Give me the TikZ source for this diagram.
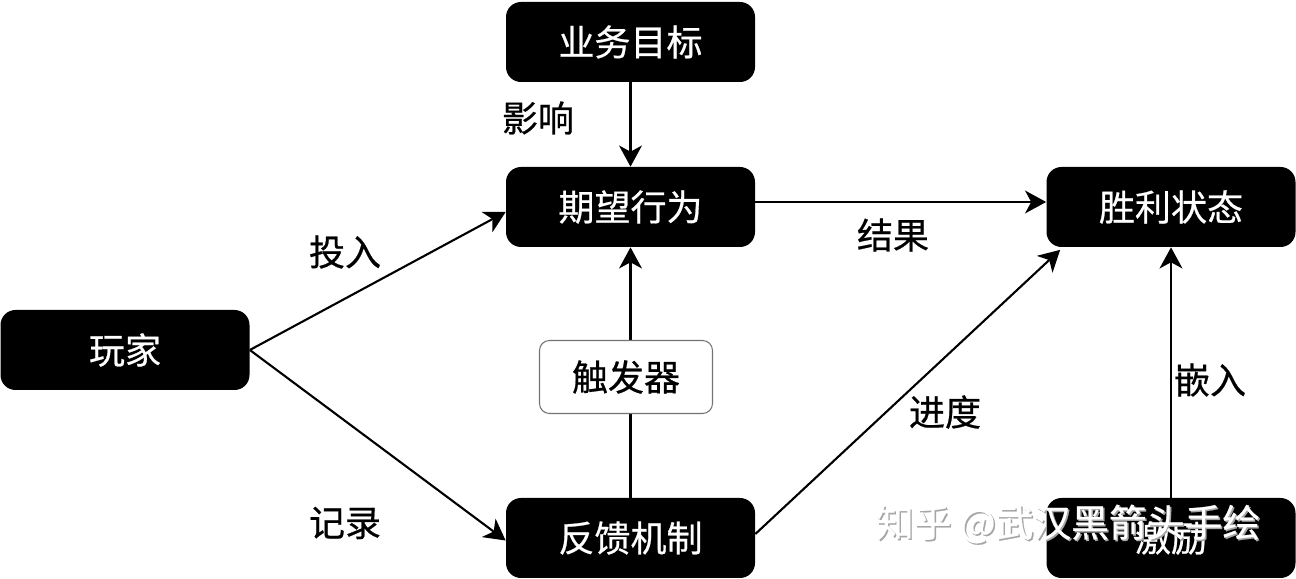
\documentclass[tikz,border=0pt]{standalone}
\usepackage{fontspec}
\setmainfont{Noto Sans CJK SC}[FakeBold=0.6]
\usetikzlibrary{arrows.meta}

\begin{document}
\begin{tikzpicture}[
	box/.style={fill=black, text=white, rounded corners=0.3cm, minimum width=4.98cm, minimum height=1.6cm, font=\fontsize{20.5}{24}\selectfont},
	trigbox/.style={draw=black!55, fill=white, rounded corners=0.2cm, minimum width=3.46cm, minimum height=1.46cm, line width=0.6pt, font=\fontsize{20.5}{24}\selectfont},
	lbl/.style={font=\fontsize{20.5}{24}\selectfont},
	arr/.style={line width=1.2pt, -{Stealth[length=12pt,width=13pt,inset=3.5pt]}},
	ln/.style={line width=1.2pt}]
	\useasboundingbox (0,0) rectangle (25.92,11.58);

	\node[box] (goal) at (12.61,10.74) {业务目标};
	\node[box] (behav) at (12.61,7.44) {期望行为};
	\node[box] (win) at (23.42,7.44) {胜利状态};
	\node[box] (player) at (2.5,4.58) {玩家};
	\node[box] (feedb) at (12.61,0.82) {反馈机制};
	\node[box] (incent) at (23.42,0.82) {激励};

	\draw[arr] (goal) -- (behav);
	\draw[arr] (player.east) -- ([yshift=-0.1cm]behav.west);
	\draw[arr] (player.east) -- ([yshift=-0.05cm]feedb.west);
	\draw[arr] ([yshift=0.1cm]behav.east) -- ([yshift=0.1cm]win.west);
	\draw[arr] ([yshift=0.08cm]feedb.east) -- ([xshift=0.28cm,yshift=-0.05cm]win.south west);
	\draw[arr] (feedb) -- (behav);
	\draw[arr] (incent) -- (win);

	\node[trigbox] (trig) at (12.52,4.04) {触发器};

	\node[lbl] (l1) at (10.76,9.22) {影响};
	\node[lbl] (l2) at (6.9,6.54) {投入};
	\node[lbl] (l3) at (6.9,1.12) {记录};
	\node[lbl] (l4) at (17.86,6.88) {结果};
	\node[lbl] (l5) at (18.9,3.34) {进度};
	\node[lbl] (l6) at (24.2,3.98) {嵌入};

	% watermark
	\node[font=\fontsize{21.5}{24}\selectfont, text=black!35] (wm0) at (21.39,1.07) {知乎 @武汉黑箭头手绘};
	\node[font=\fontsize{21.5}{24}\selectfont, text=white] (wm) at (21.36,1.1) {知乎 @武汉黑箭头手绘};
\end{tikzpicture}
\end{document}
